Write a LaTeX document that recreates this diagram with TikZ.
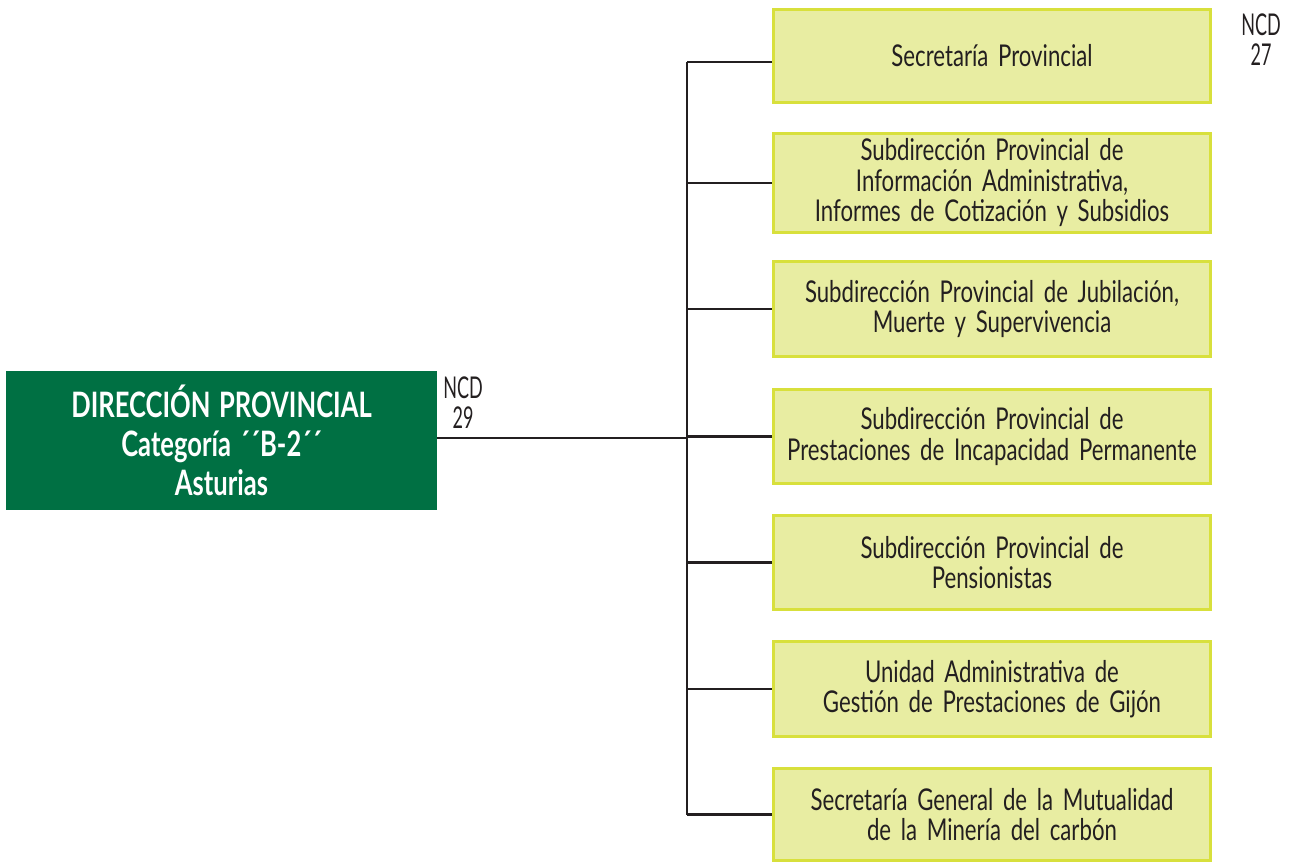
\documentclass[tikz,border=0pt]{standalone}
\usepackage{fontspec}
\setmainfont{Lato}
\newfontfamily\yfont{Lato}[FakeStretch=0.74, WordSpace=1.7]
\newfontfamily\gfont{Lato}[FakeStretch=0.73, WordSpace=1.4]
\newfontfamily\ncdfont{Lato}[FakeStretch=0.6]
\definecolor{dgreen}{HTML}{007043}
\definecolor{yfill}{HTML}{E8EDA2}
\definecolor{yborder}{HTML}{D8E03C}
\definecolor{ink}{HTML}{231F20}
\tikzset{
  ybox/.style={draw=yborder, line width=3pt, fill=yfill, minimum width=437pt, align=center, text=ink, font=\yfont\fontsize{30}{30.5}\selectfont, inner sep=0pt},
  gbox/.style={fill=dgreen, minimum width=431pt, minimum height=139pt, align=center, text=white, font=\gfont\bfseries\fontsize{35}{39}\selectfont, inner sep=0pt},
  ncd/.style={align=center, text=ink, font=\ncdfont\fontsize{30}{30}\selectfont, inner sep=0pt},
  conn/.style={draw=ink, line width=2.5pt}
}
\begin{document}
\begin{tikzpicture}[x=1pt,y=-1pt]
\useasboundingbox (0,0) rectangle (1294,864);
\node[gbox] (dp) at (221.5,440.5) {DIRECCIÓN PROVINCIAL\\Categoría ´´B-2´´\\Asturias};
\node[ybox, minimum height=93pt] (b1) at (992,56) {Secretaría Provincial};
\node[ybox, minimum height=99pt] (b2) at (992,183) {Subdirección Provincial de\\Información Administrativa,\\Informes de Cotización y Subsidios};
\node[ybox, minimum height=95pt] (b3) at (992,309) {Subdirección Provincial de Jubilación,\\Muerte y Supervivencia};
\node[ybox, minimum height=94pt] (b4) at (992,436.5) {Subdirección Provincial de\\Prestaciones de Incapacidad Permanente};
\node[ybox, minimum height=94pt] (b5) at (992,562.5) {Subdirección Provincial de\\Pensionistas};
\node[ybox, minimum height=95pt] (b6) at (992,689) {Unidad Administrativa de\\Gestión de Prestaciones de Gijón};
\node[ybox, minimum height=92pt] (b7) at (992,814.5) {Secretaría General de la Mutualidad\\de la Minería del carbón};
\node[ncd] (n29) at (463,403) {NCD\\29};
\node[ncd] (n27) at (1261,40) {NCD\\27};
\coordinate (top) at (687,62);
\coordinate (bot) at (687,815);
\draw[conn] (top) -- (bot);
\draw[conn] ([yshift=-6pt]b1.west) -- ([yshift=-6pt]b1.west -| top);
\foreach \b in {b2,b3,b4,b5,b6,b7} \draw[conn] (\b.west) -- (\b.west -| top);
\draw[conn] ([yshift=2.5pt]dp.east) -- ([yshift=2.5pt]dp.east -| top);
\end{tikzpicture}
\end{document}
